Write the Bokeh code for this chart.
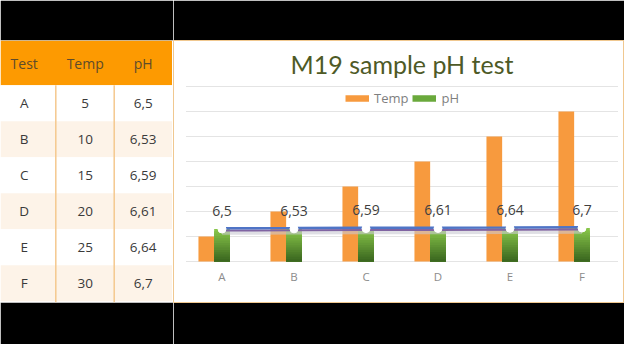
import numpy as np
from bokeh.plotting import figure
from bokeh.models import Range1d, FactorRange, ColumnDataSource, Legend, LegendItem
from bokeh.transform import dodge
from bokeh.layouts import row
from bokeh.core.properties import value
from bokeh.embed import file_html
from bokeh.resources import INLINE

# ---------------- data ----------------
tests = ["A", "B", "C", "D", "E", "F"]
temp = [5, 10, 15, 20, 25, 30]
ph = [6.5, 6.53, 6.59, 6.61, 6.64, 6.7]
headers = ["Test", "Temp", "pH"]
title_text = "M19 sample pH test"
y_ticks = [0, 5, 10, 15, 20, 25, 30, 35]


def fmt(v):
    return f"{v:g}".replace(".", ",")


ph_labels = [fmt(v) for v in ph]
temp_labels = [str(v) for v in temp]

FONT = "Open Sans"
W_T, W_C, H = 173, 451, 344
B_TOP, B_BOT = 40, 42

# ---------------- table (left) ----------------
t = figure(width=W_T, height=H, x_range=Range1d(8, 181), y_range=Range1d(310, 48),
           output_backend="svg", toolbar_location=None,
           min_border_left=0, min_border_right=0, min_border_top=B_TOP, min_border_bottom=B_BOT,
           x_axis_location=None, y_axis_location=None,
           background_fill_color="white", border_fill_color="black",
           outline_line_color=None)
t.grid.visible = False

ROW0, ROW_H = 92.7, 36.0
n = len(tests)
# header
t.quad(left=8, right=179.5, top=48, bottom=ROW0, fill_color="#fd9a01", line_color=None)
# striped rows
row_tops = [ROW0 + ROW_H * i for i in range(n)]
row_bots = [ROW0 + ROW_H * (i + 1) for i in range(n)]
row_cols = ["#ffffff" if i % 2 == 0 else "#fdf3e8" for i in range(n)]
t.quad(left=8, right=179.5, top=row_tops, bottom=row_bots, fill_color=row_cols, line_color=None)
# column separators
t.segment(x0=[63.3, 121.7], x1=[63.3, 121.7], y0=ROW0, y1=310,
          line_color="#f5c88e", line_width=1.5)

col_x = [31.7, 92.7, 150.7]
t.text(x=col_x, y=[70.5] * 3, text=headers, text_align="center", text_baseline="middle",
       text_font=value(FONT), text_font_size="14px", text_color="#5e4b2b")
mid_y = [110.7 + ROW_H * i for i in range(n)]
for cx, col in zip(col_x, [tests, temp_labels, ph_labels]):
    t.text(x=[cx] * n, y=mid_y, text=col, text_align="center", text_baseline="middle",
           text_font=value(FONT), text_font_size="13.5px", text_color="#3a3a3a")

# ---------------- chart (right) ----------------
SHIFT = 3 / 72
BW = 0.218
c = figure(width=W_C, height=H,
           x_range=FactorRange(factors=tests, range_padding=(W_C / 72 - len(tests)) / 2,
                               range_padding_units="absolute"),
           y_range=Range1d(-8.2, 44.2),
           output_backend="svg", toolbar_location=None,
           min_border_left=0, min_border_right=0, min_border_top=B_TOP, min_border_bottom=B_BOT,
           x_axis_location=None, y_axis_location=None,
           background_fill_color="white", border_fill_color="black",
           outline_line_color="#f0c890", outline_line_width=1)
c.grid.visible = False

src = ColumnDataSource(dict(tests=tests, temp=temp, ph=ph, labels=ph_labels))

# grid lines
c.segment(x0=SHIFT, x1=len(tests) + SHIFT, y0=y_ticks, y1=y_ticks,
          line_color="#e4e4e4", line_width=1)

xc = dodge("tests", SHIFT, range=c.x_range)

# Temp bars
c.vbar(x=dodge("tests", -BW + SHIFT, range=c.x_range), top="temp", width=BW, source=src,
       fill_color="#f79a3e", line_color=None)

# pH bars with vertical gradient (light top -> dark bottom)
K = 14
top_rgb = np.array([0x88, 0xc6, 0x4a])
bot_rgb = np.array([0x3c, 0x68, 0x20])
for k in range(K):
    f = k / (K - 1)
    rgb = (top_rgb * (1 - f) + bot_rgb * f).astype(int)
    col = "#%02x%02x%02x" % tuple(rgb)
    src.data[f"ph_{k}"] = [v * (1 - k / K) for v in ph]
    c.vbar(x=xc, top=f"ph_{k}", width=BW, source=src, fill_color=col, line_color=None)

# pH line (with shadow)
c.line(x=xc, y=dodge("ph", -0.75), source=src, line_color="#c9c9d2", line_width=4, line_alpha=0.6)
c.line(x=xc, y=dodge("ph", -0.3), source=src, line_color="#8064a2", line_width=2)
c.line(x=xc, y=dodge("ph", 0.15), source=src, line_color="#4f74c6", line_width=2.5)
c.scatter(x=xc, y="ph", source=src, size=8, fill_color="white", line_color="white")

# data labels
c.text(x=xc, y=dodge("ph", 3.64), text="labels", source=src,
       text_align="center", text_baseline="middle",
       text_font=value(FONT), text_font_size="14px", text_color="#404040")

# category labels
c.text(x=xc, y=-2.94, text="tests", source=src,
       text_align="center", text_baseline="middle",
       text_font=value(FONT), text_font_size="11.5px", text_color="#8c8c8c")

# title
c.text(x=[len(tests) / 2 + SHIFT], y=[39.54], text=[title_text],
       text_align="center", text_baseline="middle",
       text_font=value("Lato"), text_font_size="25px", text_color="#4e5a26")

# legend (proxy renderers, single point -> nothing drawn in the plot)
r_t = c.line(x=[tests[0]], y=[0], line_color="#f79a3e", line_width=6.5)
r_p = c.line(x=[tests[0]], y=[0], line_color="#6aa93c", line_width=6.5)
legend = Legend(items=[LegendItem(label="Temp", renderers=[r_t]),
                       LegendItem(label="pH", renderers=[r_p])],
                orientation="horizontal", location=(172, 195),
                glyph_width=24, glyph_height=16, label_height=16,
                label_standoff=5, spacing=4, padding=0, margin=0,
                border_line_color=None, background_fill_alpha=0,
                label_text_font=FONT, label_text_font_size="13px",
                label_text_color="#7f7f7f")
c.add_layout(legend)

layout = row(t, c)
open("out.html", "w").write(file_html(layout, INLINE))
